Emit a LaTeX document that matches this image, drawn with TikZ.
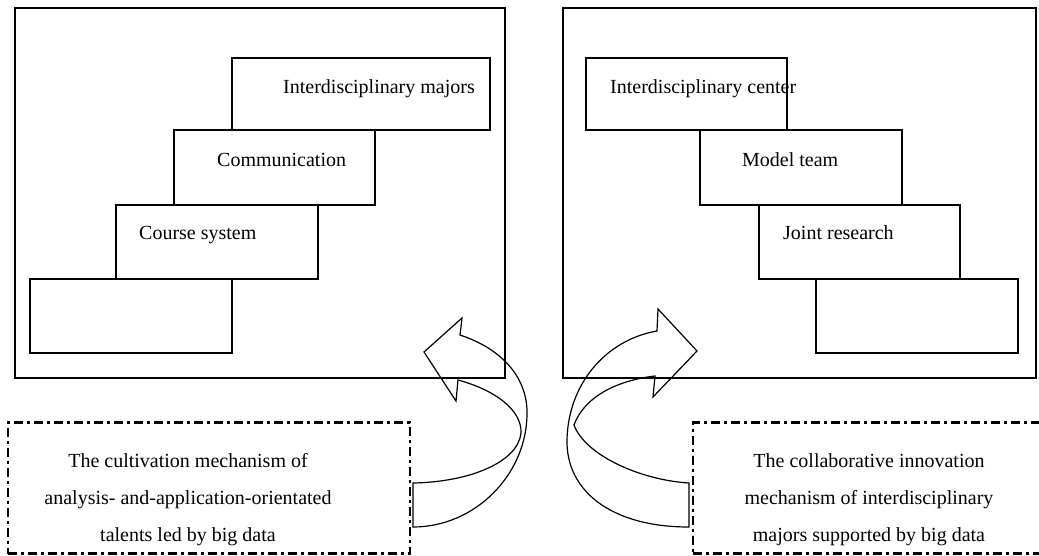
\documentclass[tikz,border=0pt]{standalone}
\usepackage{fontspec}
\setmainfont{Liberation Serif}
\usetikzlibrary{shapes.geometric,arrows,calc,positioning}

\begin{document}
\begin{tikzpicture}[x=1pt,y=-1pt]
	\tikzstyle{every node} = [font = \fontsize{20}{37}\selectfont, inner sep = 0pt]
	\tikzstyle{frame} = [draw = black, line width = 1.2pt]
	\tikzstyle{mech} = [draw = black, line width = 2.2pt, dash pattern = on 9pt off 4pt on 3pt off 4pt]
\useasboundingbox (0,0) rectangle (1039,555);
% outer frames
\node[frame, minimum width = 490, minimum height = 370] (L) at (260, 193) {};
\node[frame, minimum width = 473, minimum height = 370] (R) at (799.5, 193) {};
% left stairs
\node[frame, minimum width = 258, minimum height = 72] (lmaj) at (361, 94) {};
\node[frame, minimum width = 201, minimum height = 75] (lcom) at (274.5, 167.5) {};
\node[frame, minimum width = 202, minimum height = 74] (lcou) at (217, 242) {};
\node[frame, minimum width = 202, minimum height = 74] (lemp) at (131, 316) {};
% right stairs
\node[frame, minimum width = 201, minimum height = 72] (rcen) at (686.5, 94) {};
\node[frame, minimum width = 202, minimum height = 75] (rmod) at (801, 167.5) {};
\node[frame, minimum width = 201, minimum height = 74] (rjoi) at (859.5, 242) {};
\node[frame, minimum width = 202, minimum height = 74] (remp) at (917, 316) {};
 \node[anchor = base west] (tmaj) at (283, 93) {Interdisciplinary majors};
 \node[anchor = base west] (tcom) at (217, 166) {Communication};
 \node[anchor = base west] (tcou) at (139, 239) {Course system};
 \node[anchor = base west] (tcen) at (610, 93) {Interdisciplinary center};
 \node[anchor = base west] (tmod) at (742, 166) {Model team};
 \node[anchor = base west] (tjoi) at (783, 239) {Joint research};
% mechanisms
\node[mech, minimum width = 402, minimum height = 131] (dl) at (209, 488) {};
\node[mech, minimum width = 348, minimum height = 131] (dr) at (867, 488) {};
 \node[align = center, anchor = base] (tdl) at (188, 541) {The cultivation mechanism of\\analysis- and-application-orientated\\talents led by big data};
 \node[align = center, anchor = base] (tdr) at (869, 541) {The collaborative innovation\\mechanism of interdisciplinary\\majors supported by big data};
% curved arrows
	\path[draw, line width = 1.2pt] (456,401) -- (424,352) -- (462,318) -- (460,335)
	  .. controls (505,350) and (528,380) .. (527,415)
	  .. controls (526,475) and (475,527) .. (413,527) -- (413,483)
	  .. controls (470,482) and (518,462) .. (521,433)
	  .. controls (522,410) and (495,390) .. (458,380) -- cycle;
	\path[draw, line width = 1.2pt] (653,397) -- (697,351) -- (658,309) -- (657,331)
	  .. controls (605,340) and (568,385) .. (567,440)
	  .. controls (566,490) and (610,527) .. (689,527) -- (689,483)
	  .. controls (640,480) and (585,455) .. (574,425)
	  .. controls (585,395) and (620,380) .. (655,376) -- cycle;
\end{tikzpicture}
\end{document}
